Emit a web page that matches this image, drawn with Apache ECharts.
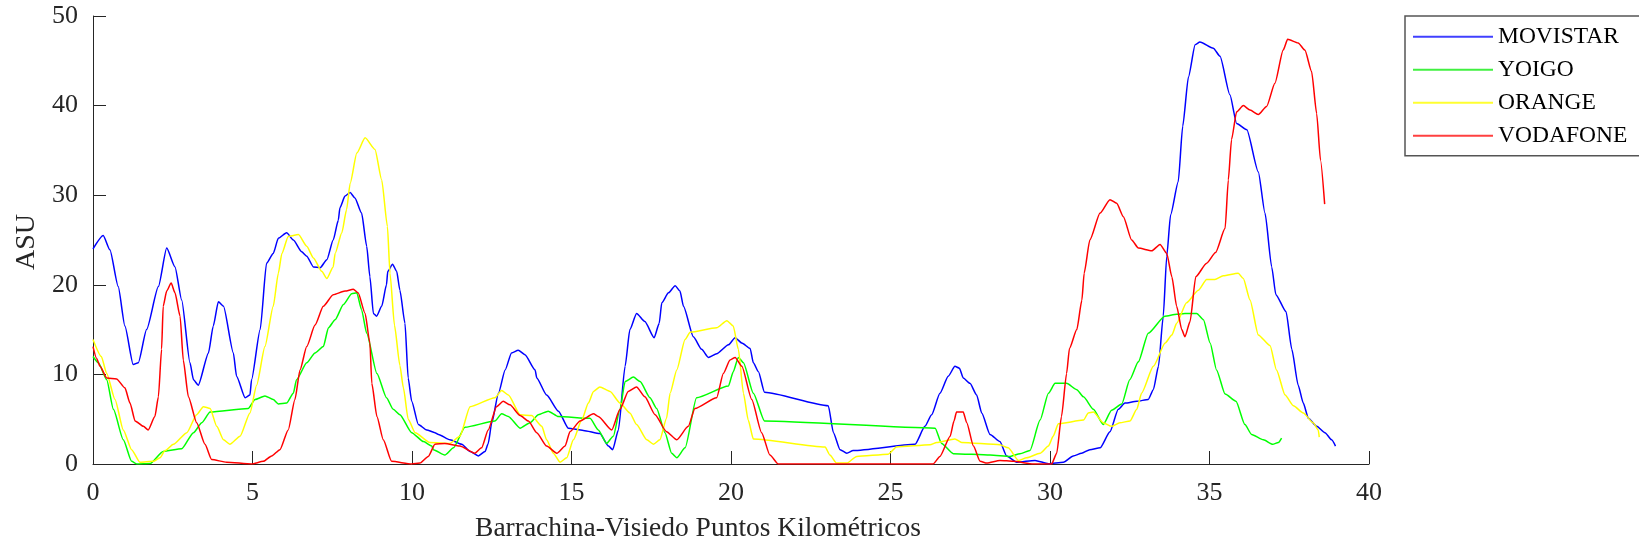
<!DOCTYPE html>
<html><head><meta charset="utf-8">
<script src="https://cdn.jsdelivr.net/npm/echarts@6/dist/echarts.min.js"></script>
<style>html,body{margin:0;padding:0;background:#fff}#c{width:1639px;height:548px}</style>
</head><body><div id="c"></div>
<script>
const seriesNames = ['MOVISTAR', 'YOIGO', 'ORANGE', 'VODAFONE'];
const xTickValues = [0, 5, 10, 15, 20, 25, 30, 35, 40];
const yTickValues = [0, 10, 20, 30, 40, 50];
const xTitle = 'Barrachina-Visiedo Puntos Kilométricos';
const yTitle = 'ASU';

const movistar = [[0,24.0],[0.32,25.5],[0.53,23.9],[0.79,19.8],[1.0,15.4],[1.26,11.1],[1.42,11.3],[1.68,15.0],[2.05,19.8],[2.31,24.1],[2.57,22.0],[2.78,18.3],[3.04,11.3],[3.15,9.4],[3.3,8.8],[3.62,12.4],[3.77,15.4],[3.93,18.1],[4.09,17.6],[4.4,12.4],[4.5,9.8],[4.77,7.4],[4.92,7.7],[4.97,9.4],[5.24,15.0],[5.44,22.4],[5.65,23.5],[5.81,25.2],[6.07,25.8],[6.28,25.0],[6.54,23.7],[6.7,23.2],[6.91,22.0],[7.12,21.9],[7.33,22.8],[7.53,25.0],[7.69,27.2],[7.74,28.6],[7.9,29.9],[8.06,30.3],[8.21,29.7],[8.42,28.0],[8.58,24.3],[8.68,20.9],[8.79,16.8],[8.89,16.5],[9.05,17.6],[9.2,20.0],[9.24,21.5],[9.39,22.3],[9.52,21.5],[9.62,19.4],[9.78,15.7],[9.88,9.6],[9.99,7.0],[10.2,4.4],[10.46,3.8],[10.72,3.5],[10.83,3.3],[11.19,2.7],[11.56,2.2],[11.82,1.4],[12.08,0.9],[12.29,1.4],[12.39,2.3],[12.5,4.6],[12.71,7.9],[12.92,10.5],[13.12,12.4],[13.33,12.7],[13.54,12.2],[13.86,10.5],[13.91,9.6],[14.22,7.7],[14.59,5.9],[14.9,4.0],[15.37,3.75],[15.89,3.4],[16.16,2.0],[16.29,1.6],[16.47,3.8],[16.68,10.9],[16.83,15.0],[17.04,16.8],[17.3,15.9],[17.59,14.1],[17.75,15.7],[17.83,18.0],[18.04,19.1],[18.25,19.9],[18.4,19.3],[18.51,17.6],[18.82,14.2],[19.08,12.8],[19.29,11.9],[19.55,12.3],[19.92,13.3],[20.13,14.1],[20.34,13.5],[20.6,12.9],[20.7,11.3],[20.86,10.3],[21.05,8.0],[23.05,6.5],[23.21,3.5],[23.42,1.6],[23.63,1.2],[23.83,1.5],[25.77,2.2],[26.08,4.2],[26.29,5.5],[26.55,7.9],[26.81,9.8],[27.02,10.9],[27.16,10.7],[27.28,9.6],[27.49,9.0],[27.7,7.7],[27.86,5.7],[28.12,3.3],[28.43,2.5],[28.64,0.9],[28.96,0.2],[29.53,0.4],[29.95,0.04],[30.42,0.2],[30.73,0.9],[30.99,1.2],[31.25,1.6],[31.57,1.8],[31.88,3.6],[32.14,6.1],[32.35,6.8],[32.72,7.0],[33.08,7.2],[33.24,8.3],[33.4,10.9],[33.55,16.5],[33.66,23.2],[33.78,27.8],[34.02,31.5],[34.16,37.7],[34.34,43.2],[34.55,46.8],[34.7,47.1],[35.12,46.4],[35.33,45.5],[35.64,41.2],[35.85,38.0],[36.17,37.3],[36.53,32.6],[36.74,28.0],[36.95,22.0],[37.08,18.9],[37.4,17.0],[37.58,12.8],[37.78,8.8],[37.94,6.8],[38.1,5.1],[38.36,4.2],[38.62,3.5],[38.83,2.7],[38.95,2.0]];

const yoigo = [[0,12.0],[0.17,11.3],[0.43,9.4],[0.64,6.1],[0.95,2.7],[1.21,0.3],[1.37,0],[1.79,0.05],[2.2,1.4],[2.78,1.7],[3.15,3.5],[3.41,4.6],[3.67,5.8],[4.87,6.2],[5.08,7.2],[5.39,7.6],[5.65,7.2],[5.81,6.7],[6.07,6.8],[6.28,7.9],[6.38,9.4],[6.7,11.3],[6.96,12.4],[7.22,13.1],[7.38,15.2],[7.59,16.1],[7.85,17.8],[8.11,19.0],[8.27,19.1],[8.42,17.2],[8.58,14.6],[8.9,10.1],[9.2,7.4],[9.41,6.1],[9.62,5.5],[9.99,3.5],[10.36,2.5],[10.62,2.0],[10.67,1.6],[11.03,1.0],[11.3,1.8],[11.66,4.1],[12.6,4.8],[12.81,5.6],[13.02,5.3],[13.39,4.0],[13.7,4.6],[13.96,5.5],[14.27,5.9],[14.59,5.3],[15.58,5.1],[15.84,3.8],[16.1,2.3],[16.31,3.1],[16.52,6.1],[16.68,9.2],[16.94,9.7],[17.15,9.2],[17.46,7.4],[17.67,6.2],[17.93,3.5],[18.14,1.2],[18.3,0.7],[18.56,1.8],[18.92,7.4],[19.92,8.7],[20.07,10.3],[20.23,11.9],[20.39,11.3],[20.7,7.9],[21.05,4.8],[26.4,4.0],[26.6,2.3],[26.97,1.15],[28.12,1.0],[28.75,0.85],[29.06,1.15],[29.37,1.5],[29.69,4.9],[29.95,7.9],[30.16,9.0],[30.52,9.0],[30.84,8.3],[31.05,7.5],[31.36,6.1],[31.67,4.4],[31.93,6.0],[32.25,6.7],[32.5,9.4],[32.77,11.4],[33.08,14.6],[33.6,16.5],[33.97,16.7],[34.23,16.8],[34.6,16.8],[34.81,16.1],[35.02,13.5],[35.22,10.5],[35.49,7.8],[35.83,7.0],[36.11,4.4],[36.32,3.3],[36.69,2.7],[36.98,2.2],[37.16,2.4],[37.26,2.9]];

const orange = [[0,13.9],[0.26,12.0],[0.43,10.1],[0.69,7.2],[0.95,3.8],[1.21,1.6],[1.47,0.2],[1.89,0.3],[2.1,0.7],[2.26,1.5],[2.52,2.2],[2.94,3.5],[3.25,5.5],[3.46,6.4],[3.67,6.2],[3.88,4.2],[4.09,2.7],[4.29,2.2],[4.61,3.1],[4.92,5.7],[5.13,8.8],[5.39,13.1],[5.65,17.6],[5.81,21.3],[5.92,23.5],[6.12,25.4],[6.44,25.6],[6.7,24.3],[6.91,23.0],[7.17,21.5],[7.33,20.7],[7.53,22.0],[7.59,23.5],[7.8,25.8],[7.95,28.4],[8.06,31.3],[8.27,34.7],[8.53,36.4],[8.84,35.1],[9.05,31.7],[9.23,26.5],[9.31,21.3],[9.45,15.5],[9.62,11.0],[9.73,8.5],[9.88,5.0],[10.1,3.5],[10.56,2.4],[11.19,2.3],[11.5,3.1],[11.82,6.4],[12.6,7.4],[12.81,8.2],[13.02,7.7],[13.39,5.5],[13.75,5.4],[14.07,4.2],[14.22,2.7],[14.43,1.2],[14.64,0.2],[14.85,0.7],[15.06,2.7],[15.32,4.9],[15.53,6.8],[15.69,8.1],[15.89,8.6],[16.21,8.1],[16.52,6.8],[16.83,5.7],[17.04,4.4],[17.36,2.7],[17.57,2.2],[17.77,2.7],[17.98,5.1],[18.09,7.9],[18.3,10.5],[18.56,13.9],[18.72,14.7],[19.55,15.2],[19.87,16.0],[20.07,15.4],[20.23,12.8],[20.39,7.9],[20.54,4.9],[20.7,2.8],[22.95,1.9],[23.1,1.0],[23.31,0.1],[23.63,0.1],[23.94,0.85],[24.93,1.1],[25.19,1.9],[26.24,2.15],[26.45,2.4],[27.02,2.8],[27.23,2.4],[28.43,2.15],[28.69,1.8],[29.01,0.4],[29.27,0.7],[29.69,1.2],[29.95,2.0],[30.1,3.1],[30.26,4.5],[31.05,4.9],[31.2,5.7],[31.36,5.8],[31.67,4.6],[31.93,4.2],[32.19,4.6],[32.51,4.8],[32.72,6.1],[32.87,7.9],[33.24,10.9],[33.61,13.5],[33.82,14.4],[33.97,15.7],[34.28,18.0],[34.65,19.4],[34.91,20.6],[35.17,20.6],[35.43,21.0],[35.9,21.3],[36.06,20.7],[36.27,18.3],[36.53,14.4],[36.9,13.2],[37.1,10.5],[37.37,7.7],[37.63,6.5],[37.94,5.7],[38.25,4.6],[38.41,3.8],[38.44,3.0]];

const vodafone = [[0,13.1],[0.11,11.8],[0.22,10.9],[0.43,9.6],[0.74,9.5],[1.0,8.5],[1.16,6.8],[1.32,4.8],[1.58,4.2],[1.73,3.8],[1.94,5.3],[2.05,7.5],[2.15,12.8],[2.2,17.6],[2.31,19.3],[2.45,20.2],[2.57,19.1],[2.73,16.5],[2.83,11.6],[2.99,7.5],[3.25,4.6],[3.51,2.2],[3.72,0.5],[4.19,0.2],[4.97,0],[5.34,0.3],[5.6,0.9],[5.86,1.6],[6.12,3.8],[6.33,7.2],[6.49,10.5],[6.7,13.1],[6.96,15.5],[7.22,17.6],[7.53,18.9],[7.9,19.3],[8.16,19.5],[8.31,19.1],[8.53,16.8],[8.68,13.5],[8.74,9.0],[8.9,5.3],[9.1,2.7],[9.36,0.3],[9.99,0],[10.25,0.1],[10.51,0.85],[10.72,2.2],[11.03,2.3],[11.5,2.0],[11.97,1.2],[12.18,1.8],[12.39,3.8],[12.65,6.4],[12.86,7.0],[13.07,6.6],[13.39,5.4],[13.65,4.8],[13.91,3.5],[14.22,2.0],[14.54,1.2],[14.8,2.0],[14.95,3.6],[15.27,4.8],[15.69,5.6],[15.84,5.3],[16.26,3.8],[16.52,6.1],[16.78,8.1],[17.04,8.6],[17.3,7.5],[17.62,5.5],[17.98,3.6],[18.3,2.7],[18.66,4.2],[18.87,6.2],[19.55,7.4],[19.76,10.1],[19.97,11.6],[20.13,11.9],[20.34,10.9],[20.65,7.2],[20.96,3.5],[21.22,1.0],[21.48,0],[26.34,0],[26.55,0.85],[26.87,3.1],[26.99,4.8],[27.07,5.8],[27.28,5.8],[27.39,4.6],[27.6,2.0],[27.81,0.3],[28.02,0.1],[28.43,0.4],[28.85,0.3],[29.48,0],[30.05,0],[30.21,1.2],[30.36,5.3],[30.52,10.1],[30.61,12.9],[30.84,15.0],[31.0,18.3],[31.07,21.3],[31.25,25.0],[31.57,28.0],[31.88,29.5],[32.09,29.1],[32.3,27.6],[32.56,25.0],[32.77,24.1],[33.19,23.8],[33.45,24.5],[33.66,23.5],[33.82,20.9],[33.97,17.6],[34.13,15.0],[34.23,14.2],[34.39,15.9],[34.57,20.9],[34.91,22.4],[35.19,23.6],[35.49,26.3],[35.59,31.7],[35.69,36.2],[35.85,39.3],[36.06,40.0],[36.27,39.5],[36.53,39.0],[36.79,39.9],[37.05,42.5],[37.31,46.2],[37.45,47.4],[37.78,47.0],[37.99,46.2],[38.2,43.8],[38.36,39.1],[38.48,33.9],[38.61,29.0]];

const seriesData = [movistar, yoigo, orange, vodafone];
const colors = ['#0000ff', '#00ff00', '#ffff00', '#ff0000'];
const legendColors = ['#4040ff', '#40f040', '#ffff30', '#ff4040'];
const FONT = '"Liberation Serif", "Times New Roman", serif';
const AX = '#262626';

const chart = echarts.init(document.getElementById('c'), null, {renderer: 'canvas'});
chart.setOption({
  animation: false,
  backgroundColor: '#ffffff',
  grid: {left: 93, right: 270, top: 16, bottom: 84, containLabel: false},
  xAxis: {
    type: 'value', min: xTickValues[0], max: xTickValues[xTickValues.length - 1], interval: 5,
    axisLine: {show: true, onZero: false, lineStyle: {color: AX, width: 1}},
    axisTick: {show: true, inside: true, length: 13, lineStyle: {color: AX, width: 1}},
    axisLabel: {margin: 16, fontSize: 26, fontFamily: FONT, color: AX},
    splitLine: {show: false}
  },
  yAxis: {
    type: 'value', min: yTickValues[0], max: yTickValues[yTickValues.length - 1], interval: 10,
    axisLine: {show: true, lineStyle: {color: AX, width: 1}},
    axisTick: {show: true, inside: true, length: 13, lineStyle: {color: AX, width: 1}},
    axisLabel: {margin: 15, fontSize: 26, fontFamily: FONT, color: AX},
    splitLine: {show: false}
  },
  legend: {
    orient: 'vertical', left: 1405, top: 16,
    padding: [8.7, 40, 8, 8],
    icon: 'rect',
    itemWidth: 80, itemHeight: 2, itemGap: 9,
    borderColor: '#555555', borderWidth: 1.5, backgroundColor: '#fff',
    selectedMode: false,
    textStyle: {fontSize: 23.5, fontFamily: FONT, color: '#000', lineHeight: 24},
    data: seriesNames.map((n, i) => ({name: n, itemStyle: {color: legendColors[i]}}))
  },
  graphic: [
    {type: 'text', x: 27, y: 242, rotation: Math.PI / 2,
     style: {text: yTitle, fontSize: 28, fontFamily: FONT, fill: AX, textAlign: 'center', textVerticalAlign: 'middle'}},
    {type: 'text', x: 698, y: 529,
     style: {text: xTitle, fontSize: 27.5, fontFamily: FONT, fill: AX, textAlign: 'center', textVerticalAlign: 'middle'}}
  ],
  series: seriesNames.map((n, i) => ({
    name: n, type: 'line', data: seriesData[i],
    symbol: 'none', showSymbol: false,
    smooth: 0.2, smoothMonotone: 'x',
    color: colors[i],
    lineStyle: {color: colors[i], width: 1.5},
    itemStyle: {color: colors[i]}
  }))
});
</script>
</body></html>
